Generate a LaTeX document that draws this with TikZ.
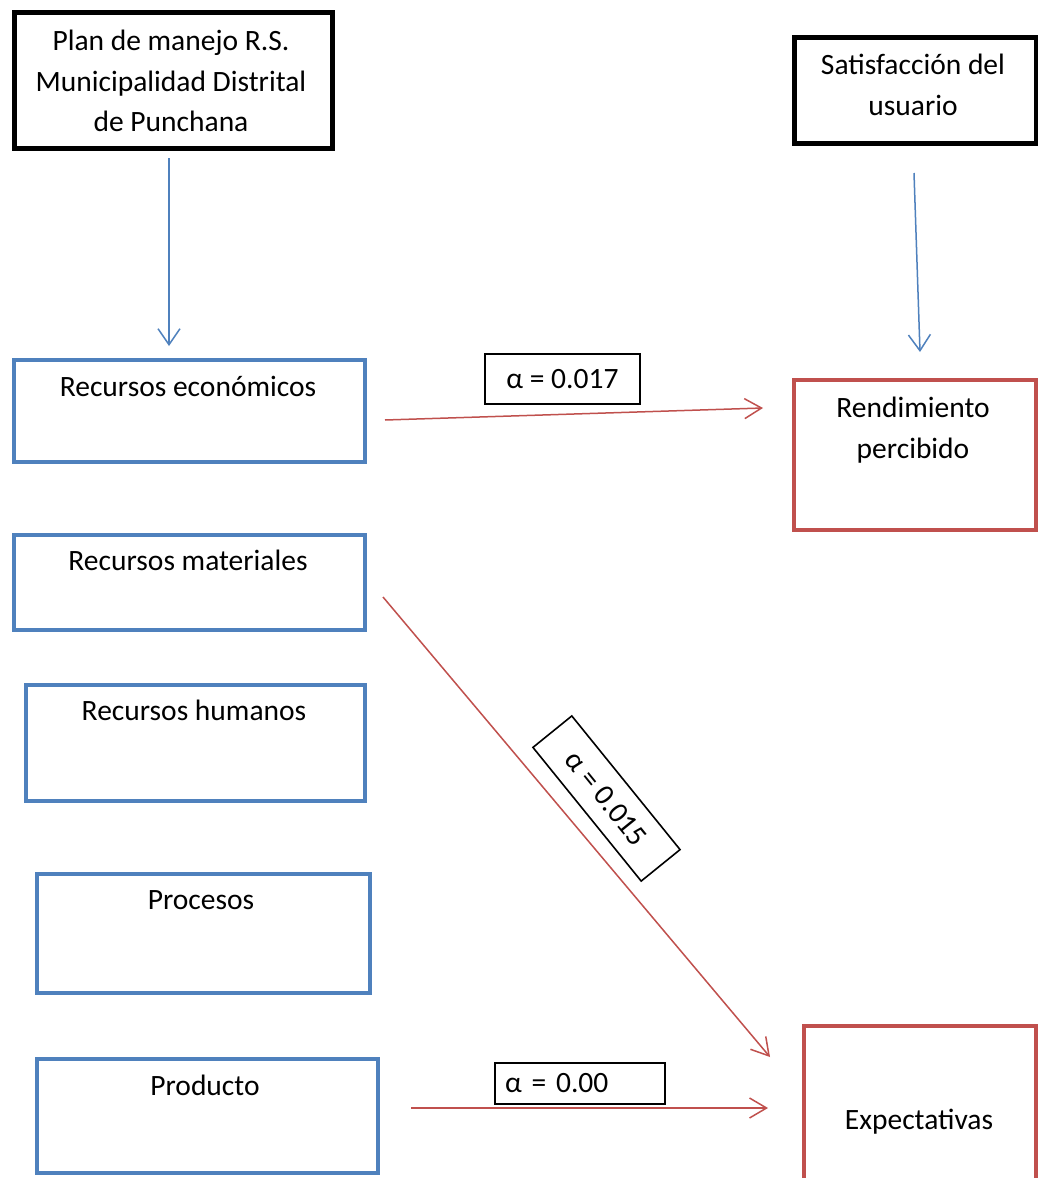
\documentclass[tikz,border=0pt]{standalone}
\usepackage{fontspec}
\setmainfont{Carlito}
\usetikzlibrary{arrows.meta}
\definecolor{obl}{HTML}{4F81BD}
\definecolor{ord}{HTML}{C0504D}
\begin{document}
\begin{tikzpicture}[x=1pt,y=-1pt,
  bx/.style={draw, line width=4pt, inner sep=0pt, anchor=north west},
  blk/.style={bx, draw=black, line width=4.5pt},
  blu/.style={bx, draw=obl},
  rd/.style={bx, draw=ord},
  txt/.style={font=\fontsize{29.5}{40.5}\selectfont, align=center, inner sep=0pt, anchor=north},
  lbl/.style={draw=black, line width=1.6pt, font=\fontsize{29.5}{34}\selectfont, inner sep=0pt},
  barr/.style={draw=obl, line width=1.5pt, -{Straight Barb[length=16pt,width=22pt]}},
  rarr/.style={draw=ord, line width=1.5pt, -{Straight Barb[length=17pt,width=20pt]}}
]
\useasboundingbox (0,0) rectangle (1038,1178);
\fill[white] (0,0) rectangle (1038,1178);

% boxes
\node[blk, minimum width=318pt, minimum height=136pt] (plan) at (12,10) {};
\node[blk, minimum width=242pt, minimum height=106pt] (sat) at (792,35) {};
\node[blu, minimum width=351pt, minimum height=102pt] (eco) at (12,358) {};
\node[blu, minimum width=351pt, minimum height=95pt] (mat) at (12,533) {};
\node[blu, minimum width=339pt, minimum height=116pt] (hum) at (24,683) {};
\node[blu, minimum width=333pt, minimum height=119pt] (pro) at (35,872) {};
\node[blu, minimum width=341pt, minimum height=114pt] (prd) at (35,1057) {};
\node[rd, minimum width=242pt, minimum height=150pt] (ren) at (792,378) {};
\node[rd, minimum width=232pt, minimum height=160pt] (exp) at (802,1024) {};

% texts
\node[txt] (plant) at (171,30) {Plan de manejo R.S.\\Municipalidad Distrital\\de Punchana};
\node[txt] (satt) at (913,54) {Satisfacción del\\usuario};
\node[txt] (ecot) at (188,376) {Recursos económicos};
\node[txt] (matt) at (188,550) {Recursos materiales};
\node[txt] (humt) at (194,700) {Recursos humanos};
\node[txt] (prot) at (201,890) {Procesos};
\node[txt] (prdt) at (205,1075) {Producto};
\node[txt] (rent) at (913,397) {Rendimiento\\percibido};
\node[txt] (expt) at (919,1109) {Expectativas};

% labels
\node[lbl, minimum width=155pt, minimum height=50pt] (a1) at (562.5,379) {α = 0.017};
\node[lbl, minimum width=170pt, minimum height=41pt, text width=150pt, align=left] (a3) at (580,1083.5) {\mbox{α = 0.00}};
\node[lbl, minimum width=172pt, minimum height=50pt, rotate=-51] (a2) at (606.5,798.5) {α = 0.015};

% connector end points
\coordinate (p1) at (169,158);
\coordinate (p2) at (169,346);
\coordinate (s1) at (914,173);
\coordinate (s2) at (920,352);
\coordinate (e1) at (385,420);
\coordinate (e2) at (763,408);
\coordinate (m1) at (383,597);
\coordinate (m2) at (770,1057);
\coordinate (d1) at (411,1108);
\coordinate (d2) at (768,1108);

\draw[barr] (p1) -- (p2);
\draw[barr] (s1) -- (s2);
\draw[rarr] (e1) -- (e2);
\draw[rarr] (m1) -- (m2);
\draw[rarr] (d1) -- (d2);
\end{tikzpicture}
\end{document}
